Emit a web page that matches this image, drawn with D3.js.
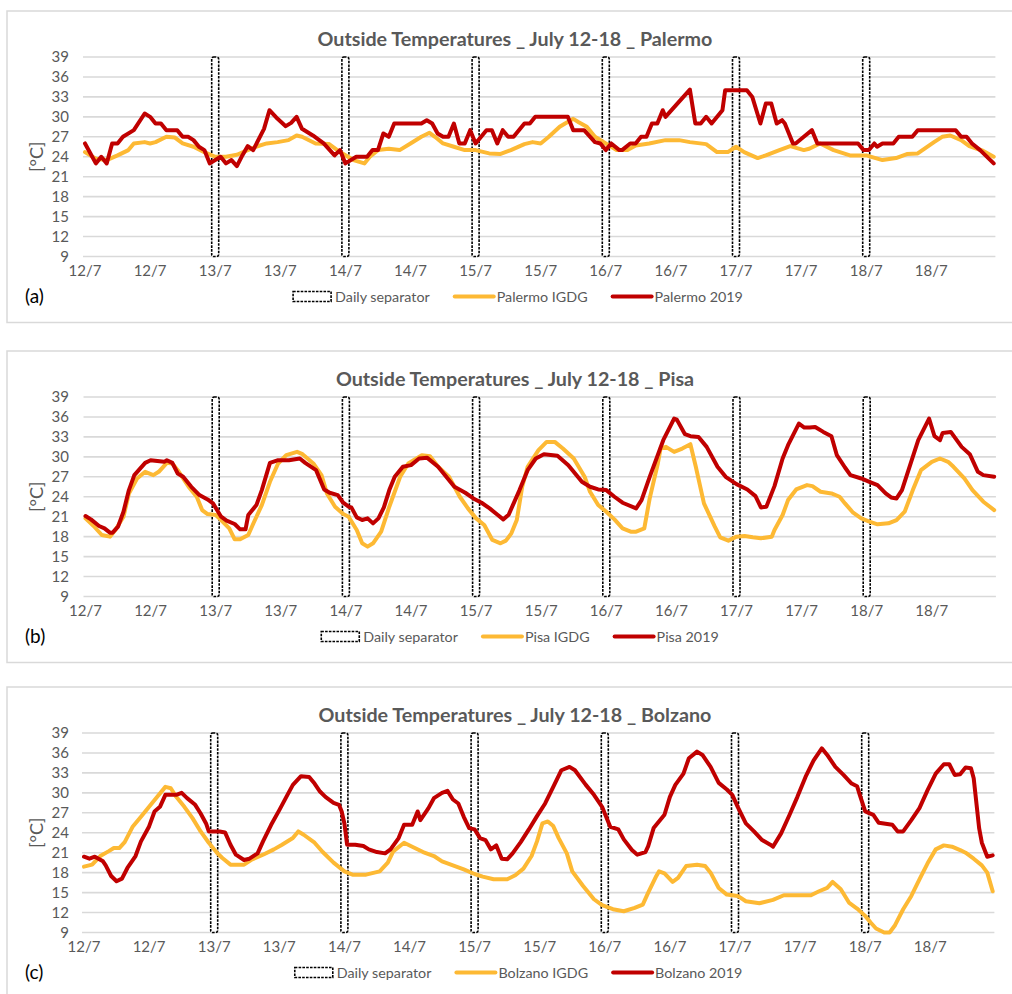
<!DOCTYPE html>
<html>
<head>
<meta charset="utf-8">
<script src="https://cdn.jsdelivr.net/npm/d3@7"></script>
<style>
  body { margin: 0; background: #fff; }
  svg { display: block; }
  text { font-family: Lato, "Open Sans", sans-serif; }
</style>
</head>
<body>
<svg id="chart" width="1012" height="994"></svg>
<script>
// Hour-of-week positions of the category labels and their text
const tickHours = [0, 12, 24, 36, 48, 60, 72, 84, 96, 108, 120, 132, 144, 156];
const tickLabels = ["12/7", "12/7", "13/7", "13/7", "14/7", "14/7", "15/7", "15/7",
                    "16/7", "16/7", "17/7", "17/7", "18/7", "18/7"];
// Midnight markers between days (drawn as full-height columns)
const separatorHours = [24, 48, 72, 96, 120, 144];
const separatorTop = 39;
const yTicks = [9, 12, 15, 18, 21, 24, 27, 30, 33, 36, 39];

// Hourly outside temperatures [hour, °C]
const palermoIGDG = [[0,24.7],[2,23.7],[4,23.5],[6,24.2],[8,25],[9,26],[11,26.2],[12,26],[13,26.2],[15,27],[16.5,26.9],[18,26],[20,25.5],[22,24.7],[24,24],[26,24],[28,24.3],[30,25],[31.5,25.5],[33.5,26],[35.5,26.2],[37.5,26.5],[39,27.2],[40,27],[42.5,26],[45,25.9],[47,24.7],[49.5,23.5],[51.5,23],[52.5,24],[54,25],[56,25.2],[58,25],[60,26],[62,27],[63.5,27.6],[64.5,27],[66,26],[68,25.5],[70,25],[72,25],[74.5,24.5],[76.5,24.4],[78.5,25],[81,25.9],[82.5,26.2],[84,26],[85.5,27],[87.5,28.5],[88.5,29],[90,29.7],[91,29.2],[92.5,28.5],[94,27],[96,26],[98,25],[100,25],[101.5,25.7],[104,26],[107,26.5],[109.5,26.5],[111.5,26.2],[114.5,25.9],[116.5,24.7],[118.5,24.7],[120,25.5],[121.5,24.7],[124,23.8],[125.5,24.2],[128,25],[130,25.6],[132.5,25],[133.5,25.2],[135.5,26],[138,25],[141,24.2],[144,24.2],[147,23.5],[149.5,23.8],[151.5,24.4],[153.5,24.5],[156.5,26.2],[158,27],[159.5,27.2],[161.5,26.5],[163,25.6],[165.5,24.9],[167.5,24]];
const palermo2019 = [[0,26],[2,23],[3,24],[4,23],[5,26],[6,26],[7,27],[9,28],[11,30.5],[12,30],[13,29],[14,29],[15,28],[17,28],[18,27],[19,27],[20,26.5],[21,25.5],[22,25],[23,23],[25,24],[26,23],[27,23.5],[28,22.6],[29,24.2],[30,25.6],[31,25],[33,28.2],[34,31],[35.5,29.7],[37,28.6],[38,29.1],[39,30],[40,28.2],[42,27.2],[44,26],[46,24.2],[47,25],[48,23],[50,24],[52,24],[53,25],[54,25],[55,27.5],[56,27],[57,29],[62,29],[63,29.5],[64,29],[65,27.5],[66,27],[67,27],[68,29],[69,26],[70,26],[71,28],[72,26],[74,28],[75,28],[76,26],[77,28],[78,27],[79,27],[81,29],[82,29],[83,30],[89,30],[90,28],[92,28],[94,26.2],[95,26],[96,25],[97,26],[98.5,25],[99,25],[100.5,26],[101.5,26],[102.5,27],[103.5,27],[104.5,29],[105.5,29],[106.5,31],[107,30],[111.5,34.1],[112.5,29],[113.5,29],[114.5,30],[115.5,29],[117.5,31],[118,34],[122,34],[123,33],[124.5,29],[125.5,32],[126.5,32],[127.5,29],[128.5,29.5],[129,29],[130.5,26],[131,26],[132.5,27],[134,28],[135,26],[142.5,26],[143.5,25],[144.5,25],[145.5,26],[146,25.5],[147,26],[149,26],[150,27],[152.5,27],[153.5,28],[160.5,28],[161.5,27],[162.5,27],[163.5,26],[165,25],[167.5,23]];
const pisaIGDG = [[0,20.75],[1.5,19.6],[3,18.25],[4.5,18],[5.5,19],[7,21],[8,24.5],[9.5,26.75],[11,27.75],[12.5,27.25],[13.5,27.75],[15,29.1],[16,29],[17,28],[19,25.5],[20.5,24],[21.5,22],[22.5,21.4],[24,21.25],[25,20.5],[26.5,19.25],[27.5,17.6],[28.5,17.6],[30,18.25],[31,20.1],[32.5,22.75],[34,26.25],[35.5,29],[37,30.25],[39,30.75],[40,30.4],[42,29],[43.5,27.25],[44.5,24.5],[46,22.5],[47.5,21.4],[48.5,21],[50,19],[51,17],[52,16.5],[53,17],[54.5,18.75],[56,22.5],[58,27],[59.5,29],[62,30.25],[63.5,30.1],[65,28.5],[67,27],[69,24],[70.5,22.25],[72,20.75],[73.5,19.75],[75,17.5],[76.5,17],[77.5,17.4],[78.5,18.5],[79.5,20.5],[80.5,25.5],[81.5,28.5],[83.5,31],[85,32.25],[86.5,32.25],[88,31.25],[90,29.75],[92,27],[93,24.75],[94.5,22.75],[96,21.75],[97.5,20.6],[99,19.25],[100.5,18.75],[101.5,18.75],[103,19.25],[104,23.75],[105.5,29],[106,31.25],[107,31.5],[108.5,30.75],[110,31.25],[111.5,31.9],[112.5,28.5],[114,23],[116,19.5],[117,17.9],[118.5,17.4],[120,18],[121.5,18.1],[123,17.9],[124.5,17.75],[126.5,18],[127,19],[128.5,21.25],[129.5,23.5],[131,25.1],[133,25.75],[134,25.6],[135.5,24.75],[137.5,24.5],[139,24],[140,23],[141.5,21.6],[143,20.75],[144.5,20.25],[146,19.85],[148,20],[149.5,20.5],[151,21.75],[152.5,25],[154,28],[156,29.25],[157.5,29.75],[159,29.25],[160,28.5],[162,26.75],[163.5,25],[165.5,23.25],[167.5,22]];
const pisa2019 = [[0,21.1],[1,20.6],[2.5,19.6],[3.5,19.25],[4.5,18.6],[5,18.6],[6,19.5],[7,21.75],[8,25],[9,27.25],[11,29.1],[12,29.5],[14.5,29.25],[15,29.5],[16,29.1],[17,27.5],[18,27],[19.5,25.5],[21,24.25],[22.5,23.6],[23.5,23],[25,21],[26,20.4],[27.5,19.9],[28.5,19.1],[29.5,19.1],[30,21.25],[31.5,22.75],[32.5,25],[34,29.1],[35.5,29.5],[37.5,29.5],[39.5,29.75],[40.5,29.1],[42.5,28],[44,25.1],[45,24.6],[46.5,24.25],[47.5,23.1],[48.5,22.5],[49,22.4],[50,20.9],[51,20.5],[52,20.75],[53,20],[54,20.75],[55,22.4],[56,25],[57,27],[58.5,28.5],[60,28.75],[61.5,29.75],[63,29.85],[65,28.5],[66.5,27],[68,25.5],[70,24.6],[71.5,23.75],[73,23.1],[74.5,22.25],[76,21.25],[77,20.6],[78,21.3],[80,25],[81.5,28],[83,29.75],[84.5,30.4],[87,30.15],[89,28.75],[91.5,26.25],[93,25.5],[94.5,25.1],[96,25],[97.5,24],[99,23.1],[101.5,22.25],[102.5,23.5],[104,27],[106.5,32.5],[108.5,35.75],[109,35.6],[110.5,33.4],[111.5,33.1],[113,33],[114.5,31.5],[116.5,28.5],[118,27],[120,25.9],[122,25.1],[123.5,24.1],[124.5,22.4],[125.5,22.5],[127,25.6],[128.5,29.75],[129.5,31.75],[131.5,35],[132.5,34.4],[133.5,34.4],[134.5,34.5],[136,33.75],[137.5,33.1],[138.5,30.25],[140,28.4],[141,27.25],[143,26.75],[144.5,26.25],[146,25.75],[147.5,24.5],[148.5,23.9],[149.5,23.75],[150.5,25],[152,28.75],[153.5,32.5],[155.5,35.75],[156.5,33.1],[157.5,32.5],[158,33.6],[159.5,33.75],[161.5,31.5],[163,30.4],[164.5,27.75],[165.5,27.25],[167.5,27]];
const bolzanoIGDG = [[0,18.9],[1.5,19.2],[3,20.5],[4.5,21.2],[5.5,21.7],[6.5,21.7],[7.5,22.6],[9,24.95],[10.5,26.4],[12,27.9],[13.5,29.4],[15,30.9],[16,30.7],[17,29.4],[18.5,27.9],[20,26.2],[21.5,24.2],[23,22.5],[24.5,21],[25.5,20.2],[27,19.2],[29.5,19.2],[31,20],[33,20.7],[35,21.5],[36.5,22.2],[38.5,23.2],[39.5,24.2],[40.5,23.7],[42.5,22.5],[44,21.1],[46,19.5],[48,18.2],[49.5,17.7],[52,17.7],[54.5,18.2],[56,19.5],[57,21.2],[59,22.5],[60.5,21.9],[62.5,21.1],[64.5,20.5],[66,19.7],[68,19.1],[70,18.5],[72,17.8],[73.5,17.4],[75.5,17],[78,17],[79.5,17.6],[81,18.6],[82.5,20.5],[83.5,22.7],[84.5,25.4],[85.5,25.7],[86.5,25],[87.5,23.2],[89,20.9],[90,18.2],[92,16],[94,14],[95.5,13.1],[97.5,12.5],[99.5,12.2],[101.5,12.7],[103,13.2],[104,15],[105.5,17.5],[106,18.2],[107,17.9],[108.5,16.6],[109.5,17.2],[111,19],[113,19.2],[114.5,19],[115.5,18],[117,15.7],[118.5,14.7],[120.5,14.5],[122,13.7],[124.5,13.4],[127,13.9],[129,14.6],[131,14.6],[134,14.6],[135.5,15.2],[137,15.7],[138,16.6],[139.5,15.5],[141,13.5],[142.5,12.6],[144,11.5],[145,10.5],[146,9.6],[147.5,9],[148.5,9],[149.5,10.1],[151,12.5],[152.5,14.5],[154,17],[155.5,19.4],[157,21.5],[158.5,22.1],[160,21.9],[161.5,21.4],[162.5,21],[164,20.1],[165.5,19.1],[166.5,18],[167.5,15.2]];
const bolzano2019 = [[0,20.4],[1,20.1],[2,20.4],[3.5,19.7],[4,19.1],[5,17.5],[6,16.7],[7,17.1],[8,18.7],[9.5,20.5],[10.5,22.7],[12,24.95],[13,27.2],[14,27.9],[15,29.7],[17,29.7],[18,30],[19,29.2],[20.5,28.2],[21.5,26.9],[22.5,25.4],[23,24.2],[25,24.2],[26,24.05],[27,22.2],[28,20.7],[29.5,19.9],[30.5,20.1],[32,20.9],[33,22.7],[34.5,25.2],[36,27.4],[37.5,29.7],[38.5,31.2],[40,32.5],[41.5,32.4],[42.5,31.4],[43.5,30.2],[44.5,29.4],[46,28.5],[47,28.2],[47.5,27.2],[48,25.4],[48.5,22.2],[50,22.2],[51.5,22],[52.5,21.5],[54,21.1],[55.5,20.9],[56.5,21.5],[58,23.2],[59,25.2],[60.5,25.2],[61.5,27.2],[62,25.9],[63.5,27.7],[64.5,29.2],[66,30],[67,30.3],[68,29],[69,28.4],[70,26.4],[71,24.7],[72,24.5],[73,23.2],[74,22.9],[75,21.5],[76,22.1],[77,20.1],[78,20],[79,20.9],[80.5,22.6],[82,24.5],[83.5,26.5],[85,28.4],[86.5,30.9],[88,33.4],[89.5,33.9],[90.5,33.4],[92.5,31.2],[94,29.7],[95.5,27.9],[96,26.9],[97,24.9],[98.5,24.5],[99.5,23],[101,21.4],[102,20.7],[103.5,21.1],[104,22],[105,24.7],[107,26.7],[108,29.4],[109,31.2],[110.5,32.9],[111.5,35.2],[113,36.2],[114,35.7],[115.5,33.9],[117,31.5],[118.5,30.5],[119.5,29.7],[120.5,27.9],[122,25.4],[123.5,24.2],[125,22.9],[126.5,22.2],[127,21.9],[128.5,23.9],[130,26.6],[131.5,29.4],[133,32.4],[134.5,34.9],[136,36.7],[137,35.7],[138.5,33.9],[140,32.7],[141.5,31.4],[142.5,31],[143,29.7],[144,27.2],[145.5,26.7],[146.5,25.5],[149,25.2],[150,24.2],[151,24.2],[152.5,25.9],[154,27.7],[155.5,30.4],[157,32.9],[158.5,34.3],[159.5,34.3],[160.5,32.7],[161.5,32.8],[162.5,33.8],[163.5,33.7],[164,32.2],[165,24.7],[165.5,22.5],[166.5,20.4],[167.5,20.6]];

const cities = ["Palermo", "Pisa", "Bolzano"];
const panelTags = ["(a)", "(b)", "(c)"];
const igdgSeries = [palermoIGDG, pisaIGDG, bolzanoIGDG];
const obsSeries = [palermo2019, pisa2019, bolzano2019];

// Layout of the three stacked panels
const plotTops = [57, 397, 733];
const plotLefts = [85, 85.5, 84];
const legendCentres = [518, 520, 518.5];
const plotH = 199.5;
const hourPx = 5.425;
const COLORS = { igdg: "#fdb934", obs: "#c00000", grid: "#d9d9d9", text: "#595959" };

const svg = d3.select("#chart");

cities.forEach((city, i) => {
  const top = plotTops[i];
  const bottom = top + plotH;
  const left = plotLefts[i];
  const x = d3.scaleLinear().domain([0, 168]).range([left, left + 168 * hourPx]);
  const y = d3.scaleLinear().domain([9, 39]).range([bottom, top]);
  const g = svg.append("g");

  // panel frame
  g.append("rect")
    .attr("x", 7).attr("y", top - 46)
    .attr("width", 1010).attr("height", plotH + 112)
    .attr("fill", "none").attr("stroke", COLORS.grid).attr("stroke-width", 1.5);

  // horizontal gridlines
  g.selectAll("line.grid").data(yTicks).join("line")
    .attr("x1", x(0) - 2).attr("x2", x(168) - 1)
    .attr("y1", d => y(d)).attr("y2", d => y(d))
    .attr("stroke", COLORS.grid).attr("stroke-width", 1.6);

  // y tick labels
  g.selectAll("text.yt").data(yTicks).join("text")
    .attr("x", 69).attr("y", d => y(d)).attr("dy", "0.36em")
    .attr("text-anchor", "end").attr("font-size", 15).attr("fill", COLORS.text)
    .text(d => d);

  // x tick labels
  g.selectAll("text.xt").data(tickHours).join("text")
    .attr("x", d => x(d)).attr("y", bottom + 19.5)
    .attr("text-anchor", "middle").attr("font-size", 15).attr("fill", COLORS.text)
    .text((d, k) => tickLabels[k]);

  // daily separators
  g.selectAll("rect.sep").data(separatorHours).join("rect")
    .attr("x", d => x(d) - 3.5).attr("width", 7)
    .attr("y", y(separatorTop)).attr("height", y(9) - y(separatorTop))
    .attr("rx", 2)
    .attr("fill", "#fff").attr("stroke", "#000").attr("stroke-width", 1.6)
    .attr("stroke-dasharray", "2.6,1.2");

  const line = d3.line().x(d => x(d[0])).y(d => y(d[1]));
  g.append("path").datum(igdgSeries[i]).attr("d", line)
    .attr("fill", "none").attr("stroke", COLORS.igdg).attr("stroke-width", 4)
    .attr("stroke-linejoin", "round").attr("stroke-linecap", "round");
  g.append("path").datum(obsSeries[i]).attr("d", line)
    .attr("fill", "none").attr("stroke", COLORS.obs).attr("stroke-width", 4)
    .attr("stroke-linejoin", "round").attr("stroke-linecap", "round");

  // title
  g.append("text")
    .attr("x", 515).attr("y", top - 11)
    .attr("text-anchor", "middle").attr("font-size", 19.7).attr("font-weight", "bold")
    .attr("fill", COLORS.text)
    .text(`Outside Temperatures _ July 12-18 _ ${city}`);

  // y axis title
  g.append("text")
    .attr("transform", `translate(43,${(top + bottom) / 2}) rotate(-90)`)
    .attr("text-anchor", "middle").attr("font-size", 18).attr("fill", COLORS.text)
    .text("[°C]");

  // panel tag
  g.append("text")
    .attr("x", 25).attr("y", bottom + 46)
    .attr("font-size", 19).attr("fill", "#000")
    .text(panelTags[i]);

  // legend, centred under the plot
  const legY = bottom + 40;
  const items = [
    { label: "Daily separator", type: "sep" },
    { label: `${city} IGDG`, type: "igdg" },
    { label: `${city} 2019`, type: "obs" }
  ];
  const leg = g.append("g");
  let cx = 0;
  items.forEach((it, k) => {
    const ig = leg.append("g").attr("transform", `translate(${cx},0)`);
    if (it.type === "sep") {
      ig.append("rect").attr("x", 0).attr("y", legY - 5).attr("width", 38).attr("height", 10)
        .attr("fill", "#fff").attr("stroke", "#000").attr("stroke-width", 1.6)
        .attr("stroke-dasharray", "2.6,1.2");
    } else {
      ig.append("line").attr("x1", 0).attr("x2", 39).attr("y1", legY).attr("y2", legY)
        .attr("stroke", it.type === "igdg" ? COLORS.igdg : COLORS.obs).attr("stroke-width", 4)
        .attr("stroke-linecap", "round");
    }
    const t = ig.append("text").attr("x", 42).attr("y", legY).attr("dy", "0.36em")
      .attr("font-size", 14.3).attr("fill", COLORS.text).text(it.label);
    cx += 42 + t.node().getComputedTextLength() + 25;
  });
  const legW = cx - 25;
  leg.attr("transform", `translate(${legendCentres[i] - legW / 2},0)`);
});
</script>
</body>
</html>
